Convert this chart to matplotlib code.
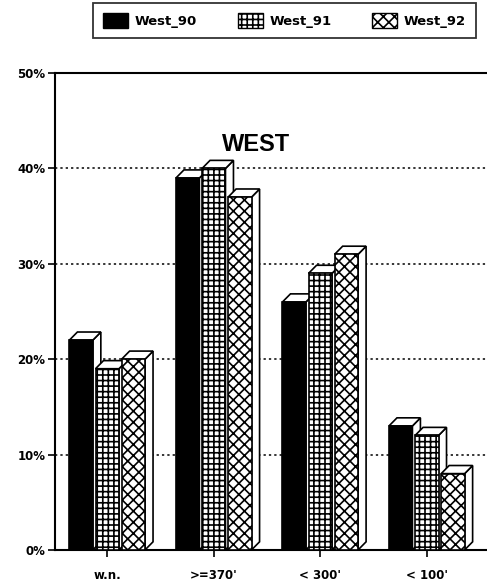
import matplotlib
matplotlib.use("Agg")
import matplotlib.pyplot as plt
from matplotlib.patches import Polygon, Patch
import numpy as np

plt.rcParams["font.family"] = ["DejaVu Sans"]
plt.rcParams["font.weight"] = "bold"
plt.rcParams["hatch.linewidth"] = 1.2

categories = ["w.n.", ">=370'", "< 300'", "< 100'"]
series = ["West_90", "West_91", "West_92"]
west_90 = [22, 39, 26, 13]
west_91 = [19, 40, 29, 12]
west_92 = [20, 37, 31, 8]
values = [west_90, west_91, west_92]
faces = ["black", "white", "white"]
hatches = [None, "+++", "xxx"]

fig = plt.figure(figsize=(4.87, 5.85), dpi=100)
ax = fig.add_axes([0.113, 0.06, 0.887, 0.815])

x = np.arange(len(categories))
w = 0.22      # bar width
step = 0.245  # bar spacing
dx, dy = 0.075, 0.85  # depth offset

z = 3
for ci in range(len(categories)):
    for si in range(len(series)):
        xc = x[ci] + (si - 1) * step
        v = values[si][ci]
        x0, x1 = xc - w / 2, xc + w / 2
        # side face
        ax.add_patch(Polygon([(x1, 0), (x1 + dx, dy), (x1 + dx, v + dy), (x1, v)],
                             closed=True, facecolor="white", edgecolor="black", lw=1.2, zorder=z))
        # top face
        ax.add_patch(Polygon([(x0, v), (x0 + dx, v + dy), (x1 + dx, v + dy), (x1, v)],
                             closed=True, facecolor="white", edgecolor="black", lw=1.2, zorder=z))
        ax.bar(xc, v, width=w, color=faces[si], edgecolor="black", hatch=hatches[si],
               lw=1.2, zorder=z + 0.5)
        z += 1

ax.set_xlim(-0.49, 3.565)
ax.set_ylim(0, 50)
ax.set_yticks([0, 10, 20, 30, 40, 50])
ax.set_yticklabels(["{}%".format(t) for t in [0, 10, 20, 30, 40, 50]], fontsize=8.5, fontweight="bold")
ax.set_xticks(x)
ax.set_xticklabels(categories, fontsize=8.5, fontweight="bold")
ax.tick_params(axis="both", direction="out", length=5, width=1.2)
ax.tick_params(axis="x", pad=9)
ax.tick_params(axis="y", pad=2)
for t in [10, 20, 30, 40]:
    ax.axhline(t, color="black", ls=(0, (1.5, 2)), lw=1.1, zorder=1)
ax.spines["right"].set_visible(False)
for s in ["left", "bottom", "top"]:
    ax.spines[s].set_linewidth(1.5)

ax.text(1.4, 42.5, "WEST", fontsize=17, fontweight="bold", ha="center", va="center",
        family="Liberation Sans")

handles = [Patch(facecolor=faces[i], edgecolor="black", hatch=hatches[i]) for i in range(3)]
leg = fig.legend(handles, series, loc="upper left", bbox_to_anchor=(0.191, 0.995), ncol=3,
                 frameon=True, fancybox=False, prop={"weight": "bold", "size": 9.5},
                 handlelength=1.9, handleheight=1.4, columnspacing=3.1, borderpad=0.75,
                 handletextpad=0.5, borderaxespad=0)
leg.get_frame().set_edgecolor("black")
leg.get_frame().set_linewidth(1.3)

fig.savefig("out.png", dpi=100)
